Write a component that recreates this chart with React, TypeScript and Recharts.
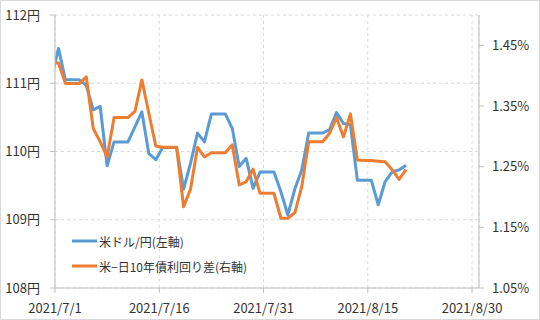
import React from 'react';
import { LineChart, Line, XAxis, YAxis, CartesianGrid, Legend } from 'recharts';

// Daily observations (weekends carry the Friday value)
const dates = [
  '2021/6/30', '2021/7/1', '2021/7/2', '2021/7/3', '2021/7/4', '2021/7/5', '2021/7/6', '2021/7/7',
  '2021/7/8', '2021/7/9', '2021/7/10', '2021/7/11', '2021/7/12', '2021/7/13', '2021/7/14', '2021/7/15',
  '2021/7/16', '2021/7/17', '2021/7/18', '2021/7/19', '2021/7/20', '2021/7/21', '2021/7/22', '2021/7/23',
  '2021/7/24', '2021/7/25', '2021/7/26', '2021/7/27', '2021/7/28', '2021/7/29', '2021/7/30', '2021/7/31',
  '2021/8/1', '2021/8/2', '2021/8/3', '2021/8/4', '2021/8/5', '2021/8/6', '2021/8/7', '2021/8/8',
  '2021/8/9', '2021/8/10', '2021/8/11', '2021/8/12', '2021/8/13', '2021/8/14', '2021/8/15', '2021/8/16',
  '2021/8/17', '2021/8/18', '2021/8/19', '2021/8/20',
];

// 米ドル/円 (left axis, 円)
const usdJpy = [
  111.08, 111.51, 111.05, 111.05, 111.05, 110.97, 110.61, 110.66,
  109.79, 110.14, 110.14, 110.14, 110.36, 110.58, 109.97, 109.88,
  110.06, 110.06, 110.06, 109.45, 109.83, 110.27, 110.14, 110.55,
  110.55, 110.55, 110.34, 109.78, 109.9, 109.46, 109.7, 109.7,
  109.7, 109.41, 109.07, 109.45, 109.73, 110.27, 110.27, 110.27,
  110.32, 110.57, 110.41, 110.39, 109.58, 109.58, 109.58, 109.22,
  109.56, 109.7, 109.73, 109.8,
];

// 米−日10年債利回り差 (right axis, %)
const spread = [
  1.421, 1.421, 1.387, 1.387, 1.387, 1.398, 1.313, 1.291,
  1.266, 1.331, 1.331, 1.331, 1.341, 1.393, 1.338, 1.284,
  1.282, 1.282, 1.282, 1.184, 1.213, 1.282, 1.266, 1.273,
  1.273, 1.273, 1.286, 1.22, 1.225, 1.246, 1.206, 1.206,
  1.206, 1.165, 1.165, 1.174, 1.217, 1.291, 1.291, 1.291,
  1.305, 1.331, 1.299, 1.337, 1.261, 1.26, 1.26, 1.259,
  1.258, 1.245, 1.229, 1.245,
];

const xTickLabels = ['2021/7/1', '2021/7/16', '2021/7/31', '2021/8/15', '2021/8/30'];
const leftTicks = [108, 109, 110, 111, 112];
const rightTicks = [1.05, 1.15, 1.25, 1.35, 1.45];
const leftDomain = [108, 112];
const rightDomain = [1.05, 1.5];
const seriesNames = ['米ドル/円(左軸)', '米−日10年債利回り差(右軸)'];

const ORIGIN = Date.UTC(2021, 6, 1);
const dayOf = (s: string) => {
  const [y, m, d] = s.split('/').map(Number);
  return (Date.UTC(y, m - 1, d) - ORIGIN) / 86400000;
};

// Excel date axis "between tick marks": each point sits in the middle of its day slot
const data = dates.map((s, i) => ({ x: dayOf(s) + 0.5, usd: usdJpy[i], spread: spread[i] }));
const xTicks = xTickLabels.map(dayOf);
const xDomain = [dayOf(xTickLabels[0]), dayOf(xTickLabels[xTickLabels.length - 1]) + 1];

const FONT = "'Noto Sans CJK JP', 'Liberation Sans', sans-serif";
const AXIS = '#bfbfbf';
const TEXT = '#333333';
const BLUE = '#5b9bd5';
const ORANGE = '#ed7d31';

const LegendBox = (props: any) => {
  const payload = [...(props.payload || [])].sort(
    (a: any, b: any) => seriesNames.indexOf(a.value) - seriesNames.indexOf(b.value)
  );
  return (
    <div style={{ fontFamily: FONT, fontSize: 12, color: TEXT }}>
      {payload.map((p: any) => (
        <div key={p.value} style={{ display: 'flex', alignItems: 'center', height: 25, whiteSpace: 'nowrap' }}>
          <svg width={27} height={6} style={{ display: 'block' }}>
            <line x1={0} y1={3} x2={25} y2={3} stroke={p.color} strokeWidth={3} />
          </svg>
          <span>{p.value}</span>
        </div>
      ))}
    </div>
  );
};

export default function App() {
  return (
    <div
      style={{
        position: 'absolute',
        left: 0,
        top: 0,
        width: 540,
        height: 320,
        background: '#fff',
        border: '1px solid #d9d9d9',
        boxSizing: 'border-box',
      }}
    >
      <div style={{ position: 'absolute', left: -1, top: -1 }}>
        <LineChart width={540} height={320} data={data} margin={{ top: 15, right: 0, bottom: 0, left: 0 }}>
          <CartesianGrid
            yAxisId="l"
            stroke="#d9d9d9"
            strokeDasharray="3 3"
            horizontal
            vertical
          />
          <XAxis
            dataKey="x"
            type="number"
            domain={xDomain}
            ticks={xTicks}
            allowDataOverflow
            height={32}
            tickSize={5}
            tickMargin={11}
            axisLine={{ stroke: AXIS }}
            tickLine={{ stroke: AXIS }}
            tick={{ fill: TEXT, fontSize: 13, fontFamily: FONT }}
            tickFormatter={(v: number) => xTickLabels[xTicks.indexOf(v)] ?? ''}
            interval={0}
          />
          <YAxis
            yAxisId="l"
            orientation="left"
            width={55}
            domain={leftDomain}
            ticks={leftTicks}
            allowDataOverflow
            tickSize={5}
            tickMargin={10}
            axisLine={{ stroke: AXIS }}
            tickLine={{ stroke: AXIS }}
            tick={{ fill: TEXT, fontSize: 13, fontFamily: FONT }}
            tickFormatter={(v: number) => `${v}円`}
            interval={0}
          />
          <YAxis
            yAxisId="r"
            orientation="right"
            width={61}
            domain={rightDomain}
            ticks={rightTicks}
            allowDataOverflow
            tickSize={5}
            tickMargin={8}
            axisLine={{ stroke: AXIS }}
            tickLine={{ stroke: AXIS }}
            tick={{ fill: TEXT, fontSize: 13, fontFamily: FONT }}
            tickFormatter={(v: number) => `${v.toFixed(2)}%`}
            interval={0}
          />
          <Legend
            layout="vertical"
            align="center"
            verticalAlign="middle"
            content={<LegendBox />}
            wrapperStyle={{ left: 72, top: 228.5, width: 220, height: 50 }}
          />
          <Line
            yAxisId="l"
            dataKey="usd"
            name={seriesNames[0]}
            stroke={BLUE}
            strokeWidth={3}
            dot={false}
            activeDot={false}
            strokeLinejoin="round"
            isAnimationActive={false}
          />
          <Line
            yAxisId="r"
            dataKey="spread"
            name={seriesNames[1]}
            stroke={ORANGE}
            strokeWidth={3}
            dot={false}
            activeDot={false}
            strokeLinejoin="round"
            isAnimationActive={false}
          />
        </LineChart>
      </div>
    </div>
  );
}
